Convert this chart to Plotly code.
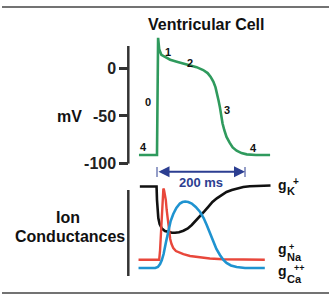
import plotly.graph_objects as go

# ---------------- data ----------------
# Action potential (ms, mV)
ap_t = [-41, -1, 0, 2.5, 5, 10, 18, 30, 45, 60, 75, 90, 105, 115, 122, 128, 133, 137,
        140, 143, 146, 149, 153, 158, 165, 172, 181, 192, 204, 225, 257]
ap_v = [-91, -91, -91, 32, 20, 14, 12, 9, 7, 5, 3.2, 1.2, -1.8, -5, -9, -14, -20, -27,
        -34, -41, -50, -58, -65, -72, -78, -83, -86.5, -89, -90.3, -91, -91]

# Ion conductances (arbitrary units)
gk_t = [-39, -1, 0, 1, 3, 6, 11, 18, 26, 34, 41, 50, 60, 70, 79, 88, 98, 107, 117,
        126, 136, 147, 158, 170, 181, 196, 211, 230, 258]
gk_v = [.935, .935, .80, .70, .62, .56, .515, .49, .478, .472, .472, .478, .493, .515,
        .55, .59, .633, .683, .733, .78, .817, .852, .88, .90, .915, .93, .937, .942, .945]

gna_t = [-42, 5, 7, 8.5, 10, 11.5, 13, 14.5, 16, 18, 20, 22, 24, 26, 28, 30, 33, 37,
         43, 50, 60, 75, 98, 120, 150, 205, 245]
gna_v = [.203, .203, .30, .45, .62, .78, .88, .915, .90, .86, .80, .70, .62, .53, .46,
         .41, .36, .32, .29, .275, .258, .24, .225, .215, .208, .203, .203]

gca_t = [-42, -4, 2, 7, 11, 15, 20, 26, 31, 37, 44, 52, 58, 64, 71, 79, 88, 98, 106,
         113, 120, 128, 135, 143, 151, 158, 168, 181, 200, 245]
gca_v = [.12, .12, .13, .16, .20, .26, .37, .50, .59, .66, .72, .765, .78, .785, .78,
         .765, .73, .68, .62, .55, .47, .38, .31, .25, .20, .17, .145, .13, .12, .12]

mv_ticks = [0, -50, -100]
apd_ms = 200
phase_labels = ["0", "1", "2", "3", "4", "4"]

# ---------------- layout helpers ----------------
W, H = 334, 299
FONT = "Liberation Sans, Arial, sans-serif"


def px(x):
    return x / W


def py(y):
    return 1 - y / H


def t_of(x):          # pixel x -> ms
    return (x - 157) / 0.44


def mv_of(y):         # pixel y -> mV on top axis
    return (68.3 - y) / 0.953


GREEN = "#2f9a5d"
RED = "#e8473b"
BLUE = "#1f93d0"
BLACK = "#111111"
NAVY = "#2c3e91"
AX = "#333333"

fig = go.Figure()
fig.add_trace(go.Scatter(x=ap_t, y=ap_v, mode="lines", yaxis="y",
                         line=dict(color=GREEN, width=2.6), hoverinfo="skip"))
fig.add_trace(go.Scatter(x=gk_t, y=gk_v, mode="lines", yaxis="y2",
                         line=dict(color=BLACK, width=2.6), hoverinfo="skip"))
fig.add_trace(go.Scatter(x=gna_t, y=gna_v, mode="lines", yaxis="y2",
                         line=dict(color=RED, width=2.4), hoverinfo="skip"))
fig.add_trace(go.Scatter(x=gca_t, y=gca_v, mode="lines", yaxis="y2",
                         line=dict(color=BLUE, width=2.6), hoverinfo="skip"))

anns = []


def ann(text, x, y, size, color="#111", xanchor="center", weight="bold"):
    anns.append(dict(text=text, x=px(x), y=py(y), xref="paper", yref="paper",
                     xanchor=xanchor, yanchor="middle", showarrow=False,
                     font=dict(family=FONT, size=size, color=color, weight=weight)))


ann("Ventricular Cell", 206, 24.5, 16)
ann("mV", 69, 116.5, 16)
ann("Ion", 68, 217.8, 16)
ann("Conductances", 69.5, 236.2, 16)

# phase numbers
for lab, (x, y) in zip(phase_labels, [(148.3, 101.5), (168, 52), (190.3, 63),
                                       (227.5, 109.5), (143.5, 147), (253.5, 147.5)]):
    ann(lab, x, y, 11)

# conductance labels
ann("g", 276, 184.5, 14, xanchor="left")
ann("K", 285, 191.2, 11, xanchor="left")
ann("+", 295.5, 181.8, 10)
ann("g", 276, 248.5, 14, xanchor="left")
ann("Na", 285, 257.2, 11, xanchor="left")
ann("+", 291, 247.3, 9)
ann("g", 276, 270.5, 14, xanchor="left")
ann("Ca", 285, 279.2, 11, xanchor="left")
ann("++", 299, 268.3, 9)

# 200 ms arrow
arrow_y = mv_of(171.7)
anns.append(dict(x=apd_ms, y=arrow_y, ax=0, ay=arrow_y, xref="x", yref="y",
                 axref="x", ayref="y", text="", showarrow=True, arrowhead=2,
                 arrowside="end+start", arrowsize=1.1, arrowwidth=2,
                 arrowcolor=NAVY))
anns.append(dict(text=f"{apd_ms} ms", x=apd_ms / 2, y=mv_of(182.5), xref="x", yref="y",
                 showarrow=False, xanchor="center", yanchor="middle",
                 font=dict(family=FONT, size=13, color=NAVY, weight="bold")))

shapes = [
    # top axis line
    dict(type="line", xref="paper", yref="y", x0=px(128.3), x1=px(128.3),
         y0=-100, y1=mv_of(46), line=dict(color=AX, width=2.5)),
    # bottom panel bar
    dict(type="line", xref="paper", yref="y2", x0=px(128.3), x1=px(128.3),
         y0=0.04, y1=0.90, line=dict(color=AX, width=2.5)),
    # arrow end bars
    dict(type="line", xref="x", yref="y", x0=0, x1=0, y0=mv_of(167), y1=mv_of(177),
         line=dict(color=NAVY, width=1)),
    dict(type="line", xref="x", yref="y", x0=apd_ms, x1=apd_ms, y0=mv_of(167),
         y1=mv_of(177), line=dict(color=NAVY, width=1)),
    # horizontal rules
    dict(type="line", xref="paper", yref="paper", x0=px(2), x1=px(329), y0=py(7),
         y1=py(7), line=dict(color="#444", width=1.5)),
    dict(type="line", xref="paper", yref="paper", x0=px(2), x1=px(329), y0=py(293),
         y1=py(293), line=dict(color="#444", width=1.5)),
]

fig.update_layout(
    width=W, height=H, margin=dict(l=0, r=0, t=0, b=0),
    paper_bgcolor="white", plot_bgcolor="rgba(0,0,0,0)", showlegend=False,
    xaxis=dict(domain=[0, 1], range=[t_of(0), t_of(W)], visible=False, fixedrange=True),
    yaxis=dict(domain=[py(190), py(30)], range=[mv_of(190), mv_of(30)],
               anchor="free", position=px(128.3), tickvals=mv_ticks,
               ticktext=[str(v) for v in mv_ticks], ticks="outside", ticklen=9,
               tickwidth=2.5, tickcolor=AX, showline=False, showgrid=False,
               zeroline=False,
               tickfont=dict(family=FONT, size=16, color="#222", weight="bold")),
    yaxis2=dict(domain=[py(280), py(180)], range=[0, 1], anchor="x", visible=False),
    annotations=anns, shapes=shapes,
)

fig.write_html("out.html")
